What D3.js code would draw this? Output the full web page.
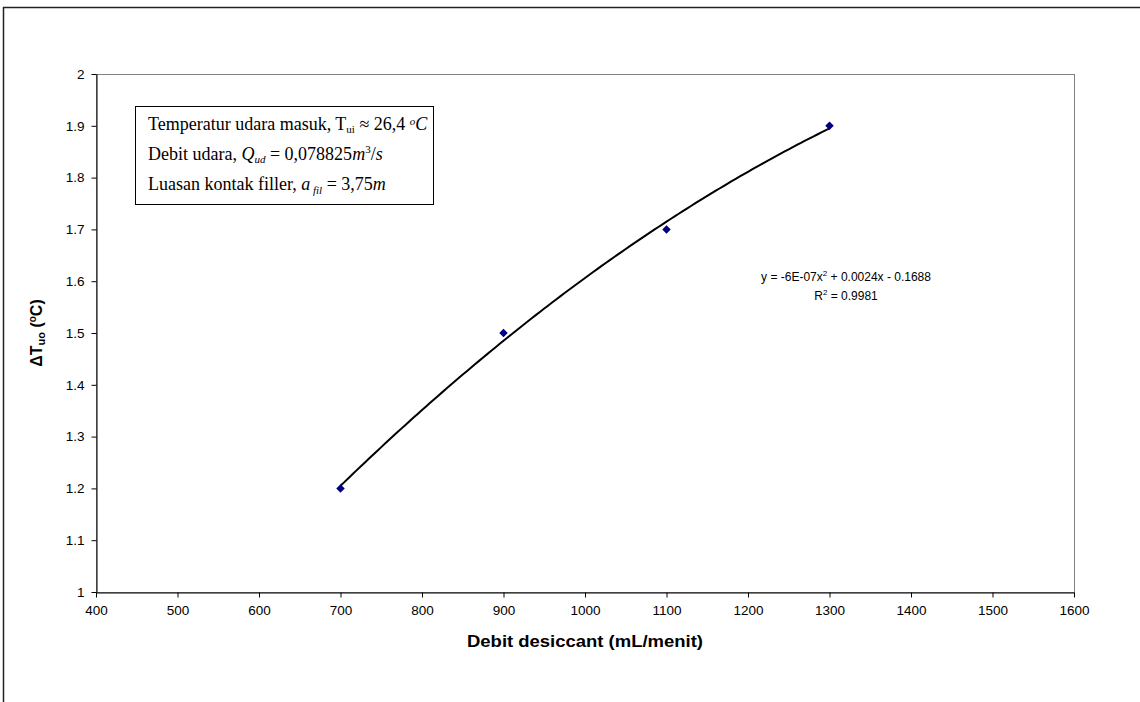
<!DOCTYPE html>
<html>
<head>
<meta charset="utf-8">
<script src="https://cdn.jsdelivr.net/npm/d3@7"></script>
<style>
	body { margin: 0; background: #fff; }
	text { font-family: "Liberation Sans", Arial, sans-serif; }
	.serif { font-family: "Liberation Serif", "Times New Roman", serif; }
</style>
</head>
<body>
<svg id="chart" width="1140" height="702"></svg>
<script>
// data
const debit = [700, 900, 1100, 1300];
const deltaT = [1.2, 1.5, 1.7, 1.9];
const xTicks = [400, 500, 600, 700, 800, 900, 1000, 1100, 1200, 1300, 1400, 1500, 1600];
const yTicks = [1, 1.1, 1.2, 1.3, 1.4, 1.5, 1.6, 1.7, 1.8, 1.9, 2];
const eqText = "y = -6E-07x";
const eqRest = " + 0.0024x - 0.1688";
const r2Value = "0.9981";

var svg = d3.select("#chart");

// outer frame (only top and left visible)
svg.append("line").attr("x1", 3).attr("y1", 7.5).attr("x2", 1140).attr("y2", 7.5)
	.attr("stroke", "#222").attr("stroke-width", 1.5);
svg.append("line").attr("x1", 3.5).attr("y1", 7).attr("x2", 3.5).attr("y2", 702)
	.attr("stroke", "#222").attr("stroke-width", 1.5);

var plot = { left: 96, right: 1074, top: 74, bottom: 592 };

var xScale = d3.scaleLinear().domain([400, 1600]).range([plot.left, plot.right]);
var yScale = d3.scaleLinear().domain([1, 2]).range([plot.bottom, plot.top]);

// plot area border
svg.append("rect")
	.attr("x", plot.left + 0.5).attr("y", plot.top + 0.5)
	.attr("width", plot.right - plot.left).attr("height", plot.bottom - plot.top)
	.attr("fill", "none").attr("stroke", "#808080").attr("stroke-width", 1);

// x axis
var xAxis = svg.append("g")
	.attr("transform", "translate(0," + (plot.bottom + 0.5) + ")")
	.call(d3.axisBottom(xScale).tickValues(xTicks).tickSize(5).tickSizeOuter(0).tickFormat(d3.format("d")));
xAxis.select(".domain").attr("stroke", "#000");
xAxis.selectAll(".tick line").attr("stroke", "#000");
xAxis.selectAll(".tick text")
	.attr("y", 13).attr("font-size", "13.5px").attr("fill", "#000")
	.style("font-family", "'Liberation Sans', Arial, sans-serif");

// y axis
var yAxis = svg.append("g")
	.attr("transform", "translate(" + (plot.left + 0.5) + ",0)")
	.call(d3.axisLeft(yScale).tickValues(yTicks).tickSize(5).tickSizeOuter(0).tickFormat(function (d) {
		return d3.format(".1~f")(d);
	}));
yAxis.select(".domain").attr("stroke", "#000");
yAxis.selectAll(".tick line").attr("stroke", "#000");
yAxis.selectAll(".tick text")
	.attr("x", -12).attr("font-size", "13.5px").attr("fill", "#000")
	.style("font-family", "'Liberation Sans', Arial, sans-serif");

// polynomial trendline (least squares, order 2) from the points
function polyFit(xs, ys) {
	var n = xs.length, s = [0, 0, 0, 0, 0], t = [0, 0, 0];
	for (var i = 0; i < n; i++) {
		for (var k = 0; k <= 4; k++) s[k] += Math.pow(xs[i], k);
		for (var k = 0; k <= 2; k++) t[k] += ys[i] * Math.pow(xs[i], k);
	}
	var m = [[s[0], s[1], s[2], t[0]], [s[1], s[2], s[3], t[1]], [s[2], s[3], s[4], t[2]]];
	for (var c = 0; c < 3; c++) {
		for (var r = c + 1; r < 3; r++) {
			var f = m[r][c] / m[c][c];
			for (var j = c; j < 4; j++) m[r][j] -= f * m[c][j];
		}
	}
	var a = [0, 0, 0];
	for (var r = 2; r >= 0; r--) {
		var v = m[r][3];
		for (var j = r + 1; j < 3; j++) v -= m[r][j] * a[j];
		a[r] = v / m[r][r];
	}
	return a;
}
var xm = d3.mean(debit);
var coef = polyFit(debit.map(function (d) { return d - xm; }), deltaT);
var curve = d3.range(d3.min(debit), d3.max(debit) + 1, 5).map(function (x) {
	var u = x - xm;
	return [x, coef[0] + coef[1] * u + coef[2] * u * u];
});
svg.append("path")
	.datum(curve)
	.attr("fill", "none").attr("stroke", "#000").attr("stroke-width", 2)
	.attr("d", d3.line().x(function (d) { return xScale(d[0]); }).y(function (d) { return yScale(d[1]); }));

// markers
svg.selectAll(".pt")
	.data(debit)
	.enter()
	.append("path")
	.attr("class", "pt")
	.attr("d", d3.symbol().type(d3.symbolDiamond2).size(46))
	.attr("transform", function (d, i) {
		return "translate(" + xScale(d) + "," + yScale(deltaT[i]) + ")";
	})
	.attr("fill", "#000080");

// equation label
var eq = svg.append("text").attr("x", 846).attr("y", 281).attr("text-anchor", "middle")
	.attr("font-size", "12px").attr("fill", "#000");
eq.append("tspan").text(eqText);
eq.append("tspan").attr("dy", -5).attr("font-size", "8px").text("2");
eq.append("tspan").attr("dy", 5).text(eqRest);
var r2 = svg.append("text").attr("x", 846).attr("y", 300).attr("text-anchor", "middle")
	.attr("font-size", "12px").attr("fill", "#000");
r2.append("tspan").text("R");
r2.append("tspan").attr("dy", -5).attr("font-size", "8px").text("2");
r2.append("tspan").attr("dy", 5).text(" = " + r2Value);

// info box
svg.append("rect").attr("x", 135.5).attr("y", 106.5).attr("width", 298).attr("height", 98)
	.attr("fill", "#fff").attr("stroke", "#000").attr("stroke-width", 1);

var l1 = svg.append("text").attr("class", "serif").attr("x", 148).attr("y", 130).attr("font-size", "18px");
l1.append("tspan").text("Temperatur udara masuk, T");
l1.append("tspan").attr("dy", 3).attr("font-size", "11px").text("ui");
l1.append("tspan").attr("dy", -3).text(" \u2248 26,4 ");
l1.append("tspan").attr("dy", -5).attr("font-size", "11px").attr("font-style", "italic").text("o");
l1.append("tspan").attr("dy", 5).attr("font-style", "italic").text("C");

var l2 = svg.append("text").attr("class", "serif").attr("x", 148).attr("y", 160).attr("font-size", "18px");
l2.append("tspan").text("Debit udara,  ");
l2.append("tspan").attr("font-style", "italic").text("Q");
l2.append("tspan").attr("dy", 3).attr("font-size", "11px").attr("font-style", "italic").text("ud");
l2.append("tspan").attr("dy", -3).text(" = 0,078825");
l2.append("tspan").attr("font-style", "italic").text("m");
l2.append("tspan").attr("dy", -7).attr("font-size", "11px").text("3");
l2.append("tspan").attr("dy", 7).text("/");
l2.append("tspan").attr("font-style", "italic").text("s");

var l3 = svg.append("text").attr("class", "serif").attr("x", 148).attr("y", 190).attr("font-size", "18px");
l3.append("tspan").text("Luasan kontak filler,  ");
l3.append("tspan").attr("font-style", "italic").text("a");
l3.append("tspan").attr("dy", 4).attr("font-size", "11px").attr("font-style", "italic").text(" fil");
l3.append("tspan").attr("dy", -4).text(" = 3,75");
l3.append("tspan").attr("font-style", "italic").text("m");

// axis titles
svg.append("text").attr("x", (plot.left + plot.right) / 2).attr("y", 647).attr("text-anchor", "middle")
	.attr("font-size", "16px").attr("font-weight", "bold")
	.attr("textLength", 236).attr("lengthAdjust", "spacingAndGlyphs")
	.text("Debit desiccant (mL/menit)");

var yt = svg.append("text")
	.attr("transform", "translate(42," + (plot.top + plot.bottom) / 2 + ") rotate(-90)")
	.attr("text-anchor", "middle").attr("font-size", "16px").attr("font-weight", "bold");
yt.append("tspan").text("\u0394T");
yt.append("tspan").attr("dy", 3).attr("font-size", "11px").text("uo");
yt.append("tspan").attr("dy", -3).text(" (");
yt.append("tspan").attr("dy", -6).attr("font-size", "10px").text("o");
yt.append("tspan").attr("dy", 6).text("C)");
</script>
</body>
</html>
